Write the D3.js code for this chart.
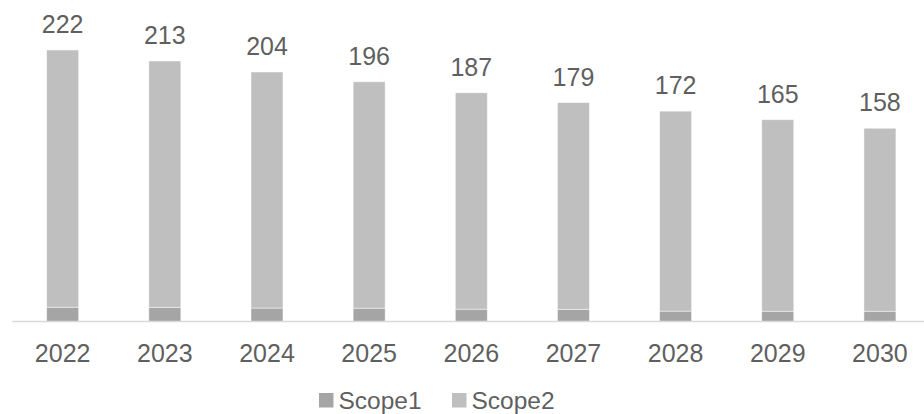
<!DOCTYPE html>
<html>
<head>
<meta charset="utf-8">
<script src="https://cdn.jsdelivr.net/npm/d3@7"></script>
<style>
  html, body { margin: 0; padding: 0; background: #fff; }
  svg { display: block; font-family: "Liberation Sans", Arial, sans-serif; }
</style>
</head>
<body>
<svg id="chart" width="924" height="414"></svg>
<script>
// Emissions by year, stacked Scope1 + Scope2
const years = ["2022", "2023", "2024", "2025", "2026", "2027", "2028", "2029", "2030"];
const totals = [222, 213, 204, 196, 187, 179, 172, 165, 158];
const scope1 = [11.7, 11.6, 11.0, 10.9, 10.1, 10.0, 8.5, 8.4, 8.4];
const scope2 = [210.3, 201.4, 193.0, 185.1, 176.9, 169.0, 163.5, 156.6, 149.6];
const seriesNames = ["Scope1", "Scope2"];
const seriesColors = ["#a5a5a5", "#bfbfbf"];

const textColor = "#5f5f5f";
const fontSize = 25;

const svg = d3.select("#chart");
const baseY = 321.5;

const x = d3.scaleBand()
  .domain(years)
  .range([11.6, 931])
  .paddingInner(0.687)
  .paddingOuter(0.3435);

const y = d3.scaleLinear()
  .domain([0, 222])
  .range([baseY, 50]);

const rows = years.map((yr, i) => ({ year: yr, Scope1: scope1[i], Scope2: scope2[i], total: totals[i] }));
const stacked = d3.stack().keys(seriesNames)(rows);

// stacked bars
svg.append("g")
  .selectAll("g")
  .data(stacked)
  .join("g")
    .attr("fill", (d, i) => seriesColors[i])
  .selectAll("rect")
  .data(d => d)
  .join("rect")
    .attr("x", d => x(d.data.year))
    .attr("width", x.bandwidth())
    .attr("y", d => y(d[1]))
    .attr("height", d => y(d[0]) - y(d[1]))
    .attr("stroke", "#ffffff")
    .attr("stroke-opacity", 0.6)
    .attr("stroke-width", 0.75);

// category axis
const xAxis = svg.append("g")
  .attr("transform", `translate(0,${baseY})`)
  .call(d3.axisBottom(x).tickSize(0).tickPadding(23));
xAxis.select(".domain").remove();
xAxis.append("line")
  .attr("x1", 12).attr("x2", 924)
  .attr("stroke", "#d9d9d9").attr("stroke-width", 1.5);
xAxis.selectAll(".tick text")
  .attr("fill", textColor)
  .attr("font-size", fontSize)
  .attr("font-family", "Liberation Sans, Arial, sans-serif");

// total labels
svg.append("g")
  .selectAll("text")
  .data(rows)
  .join("text")
    .attr("x", d => x(d.year) + x.bandwidth() / 2)
    .attr("y", d => y(d.total) - 17)
    .attr("text-anchor", "middle")
    .attr("fill", textColor)
    .attr("font-size", fontSize)
    .text(d => d.total);

// legend
const legendX = [319, 452];
const legend = svg.append("g")
  .selectAll("g")
  .data(seriesNames)
  .join("g")
    .attr("transform", (d, i) => `translate(${legendX[i]},393)`);
legend.append("rect")
  .attr("width", 14.5).attr("height", 14.5)
  .attr("fill", (d, i) => seriesColors[i]);
legend.append("text")
  .attr("x", 19.5).attr("y", 15.5)
  .attr("fill", textColor)
  .attr("font-size", 24.5)
  .text(d => d);
</script>
</body>
</html>
